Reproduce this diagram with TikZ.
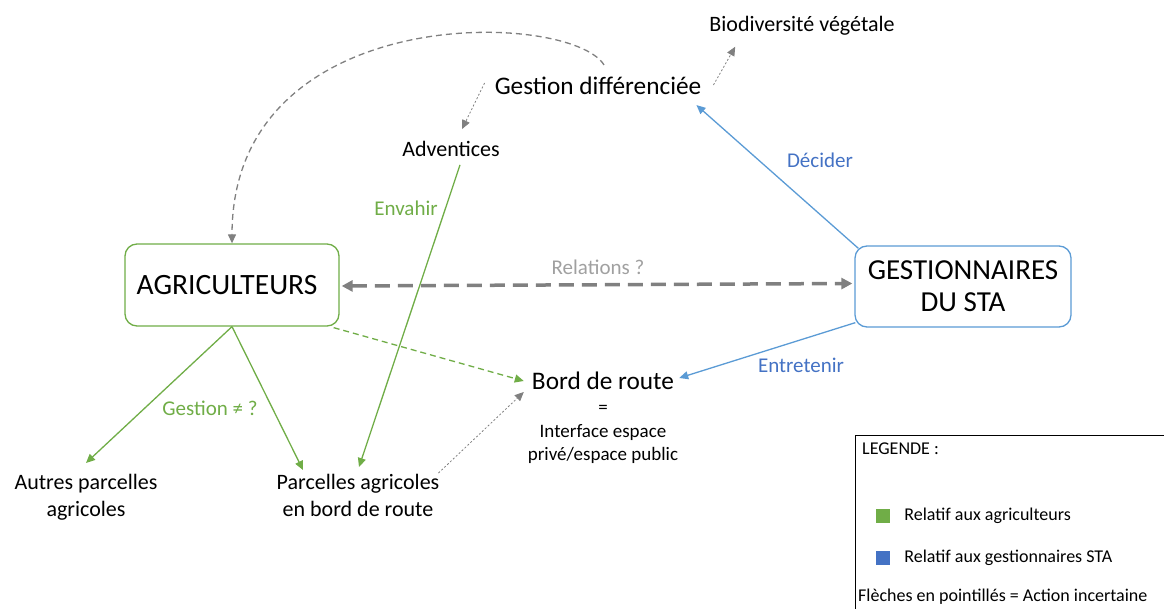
\documentclass[tikz,border=0pt]{standalone}
\usepackage{fontspec}
\setmainfont{Carlito}
\usepackage{tikz}
\usetikzlibrary{arrows.meta,positioning,calc}
\definecolor{vertagri}{RGB}{112,173,71}
\definecolor{bleusta}{RGB}{91,155,213}
\definecolor{bleutexte}{RGB}{68,114,196}
\definecolor{grisfleche}{RGB}{128,128,128}
\definecolor{grisrel}{RGB}{160,160,160}
\tikzstyle{acteur} = [rectangle, rounded corners=12pt, line width=1.3pt, fill=white,
    minimum width=214pt, minimum height=82pt, align=center, inner sep=0pt,
    font=\fontsize{29.5}{32}\selectfont]
\tikzstyle{objet} = [inner sep=2pt, font=\fontsize{25.3}{30}\selectfont]
\tikzstyle{bloc} = [inner sep=2pt, align=center, font=\fontsize{22}{27}\selectfont]
\tikzstyle{petit} = [inner sep=1pt, font=\fontsize{19}{23.5}\selectfont]
\tikzstyle{etiquette} = [inner sep=1pt, font=\fontsize{21}{25}\selectfont]
\tikzstyle{legtexte} = [inner sep=1pt, font=\fontsize{18}{21}\selectfont]
\tikzstyle{fleche} = [line width=1.3pt, -{Triangle[length=9pt,width=8pt]}]
\tikzstyle{incertain} = [fleche, dash pattern=on 6pt off 4pt]
\tikzstyle{pointille} = [line width=0.8pt, grisfleche, dash pattern=on 2pt off 2pt,
    -{Triangle[length=9pt,width=8pt]}]

\begin{document}
\begin{tikzpicture}[x=1pt,y=-1pt]
\useasboundingbox (0,0) rectangle (1164,609);

% acteurs
\node[acteur, draw=vertagri] (agri) at (232,285) {\hspace*{-10pt}AGRICULTEURS};
\node[acteur, draw=bleusta, minimum width=216pt, minimum height=81pt,
    font=\fontsize{29}{32}\selectfont] (geststa) at (963,286.5) {GESTIONNAIRES\\DU STA};

% objets
\node[objet] (gestion) at (598,86) {Gestion différenciée};
\node[bloc] (biodiv) at (802,26) {Biodiversité végétale};
\node[bloc] (adventices) at (451,149) {Adventices};
\node[objet] (bord) at (603,381) {Bord de route};
\node[petit, anchor=base] (egal) at (603,413) {=};
\node[petit, anchor=base] (interface) at (603,437) {Interface espace};
\node[petit, anchor=base] (prive) at (603,460) {privé/espace public};
\node[bloc, anchor=north] (autres) at (86,472) {Autres parcelles\\agricoles};
\node[bloc, anchor=north] (parcelles) at (358,472) {Parcelles agricoles\\en bord de route};

% fleches
\draw[incertain, grisfleche] ($(gestion.north)+(6,-10)$) .. controls (570,10) and (232,0) .. (agri.north);
\draw[pointille] ($(gestion.west)+(-8,-3)$) -- ($(adventices.north)+(11,-10)$);
\draw[pointille] ($(gestion.east)+(10,-1)$) -- ($(biodiv.south west)+(28,9)$);
\draw[fleche, bleusta] ($(geststa.north west)+(4,3)$) -- ($(gestion.south east)+(-7,8)$);
\draw[fleche, vertagri] ($(adventices.south)+(9,6)$) -- ($(parcelles.north)+(1,-5)$);
\draw[grisfleche, line width=3.5pt, dash pattern=on 15pt off 8pt,
    {Triangle[length=11pt,width=11pt]}-{Triangle[length=11pt,width=11pt]}]
    ($(agri.east)+(2,1)$) -- ($(geststa.west)+(-2,-3)$);
\draw[incertain, vertagri] ($(agri.south east)+(-6,1)$) -- ($(bord.west)+(-6,0)$);
\draw[fleche, bleusta] ($(geststa.south west)+(1,-5)$) -- ($(bord.east)+(3,-3)$);
\draw[fleche, vertagri] (agri.south) -- ($(autres.north)+(0,-9)$);
\draw[fleche, vertagri] (agri.south) -- ($(parcelles.north)+(-55,-2)$);
\draw[pointille] ($(parcelles.north east)+(-3,1)$) -- ($(bord.west)+(-6,11)$);

% etiquettes
\node[etiquette, text=bleutexte] (decider) at (820,160) {Décider};
\node[etiquette, text=vertagri] (envahir) at (406,208) {Envahir};
\node[etiquette, text=grisrel] (relations) at (598,267) {Relations ?};
\node[etiquette, text=bleutexte] (entretenir) at (801,365) {Entretenir};
\node[etiquette, text=vertagri] (gestiondiff) at (210,408) {Gestion ≠ ?};

% legende
\node[draw, line width=0.9pt, minimum width=330pt, minimum height=190pt, inner sep=0pt,
    anchor=north west] (legende) at (855,435) {};
\node[legtexte, anchor=west] (legtitre) at (861,449) {LEGENDE :};
\node[fill=vertagri, minimum size=14pt, inner sep=0pt] (carrevert) at (883,515.5) {};
\node[legtexte, right=13pt of carrevert] (legagri) {Relatif aux agriculteurs};
\node[fill=bleutexte, minimum size=14pt, inner sep=0pt] (carrebleu) at (883,557.5) {};
\node[legtexte, right=13pt of carrebleu] (legsta) {Relatif aux gestionnaires STA};
\node[legtexte, anchor=west] (legfleches) at (857,597) {Flèches en pointillés = Action incertaine};
\end{tikzpicture}
\end{document}
